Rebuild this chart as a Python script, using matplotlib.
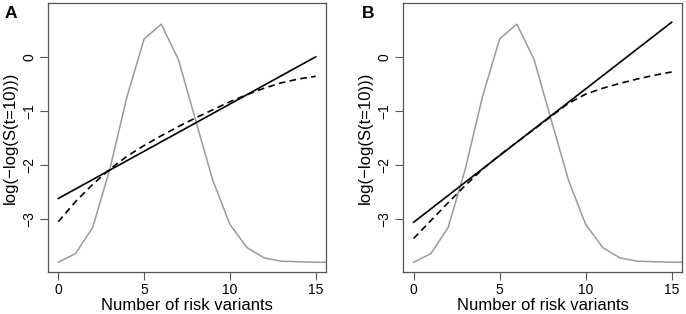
import matplotlib
matplotlib.use("Agg")
import matplotlib.pyplot as plt

plt.rcParams['font.family'] = ['Liberation Sans', 'DejaVu Sans']

# Data
x_grey = list(range(0, 17))
grey_vals = [-3.80, -3.64, -3.16, -2.08, -0.74, 0.33, 0.605, -0.05, -1.17,
             -2.28, -3.10, -3.53, -3.72, -3.78, -3.79, -3.80, -3.80]

x_fit = list(range(0, 16))
solid_A = [-2.62, 0.0]          # endpoints at x=0 and x=15
dashed_A = [-3.05, -2.68, -2.36, -2.08, -1.84, -1.64, -1.46, -1.29, -1.13,
            -0.98, -0.83, -0.70, -0.58, -0.48, -0.41, -0.36]
solid_B = [-3.06, 0.64]
dashed_B = [-3.36, -3.03, -2.70, -2.38, -2.08, -1.82, -1.58, -1.34, -1.10,
            -0.86, -0.69, -0.58, -0.49, -0.41, -0.34, -0.28]

panels = ['A', 'B']
solids = [solid_A, solid_B]
dasheds = [dashed_A, dashed_B]

xticks = [0, 5, 10, 15]
yticks = [-3, -2, -1, 0]

W, H = 686, 314
fig = plt.figure(figsize=(W / 100, H / 100), dpi=100)

boxes = [(48, 326), (403.3, 682)]
top_px, bot_px = 3.3, 272
frame_col = '#555555'

for i, (l, r) in enumerate(boxes):
    ax = fig.add_axes([l / W, 1 - bot_px / H, (r - l) / W, (bot_px - top_px) / H])
    ax.plot(x_grey, grey_vals, color='#9a9a9a', lw=1.1, solid_joinstyle='miter')
    ax.plot([0, 15], solids[i], color='black', lw=1.2)
    ax.plot(x_fit, dasheds[i], color='black', lw=1.2, ls=(0, (4.0, 2.6)))
    ax.set_xlim(-0.6, 15.6)
    ax.set_ylim(-3.98, 0.99)
    ax.set_xticks(xticks)
    ax.set_yticks(yticks)
    ax.set_yticklabels([str(t).replace('-', '\u2212') for t in yticks],
                       rotation=90, va='center')
    ax.tick_params(axis='both', length=5.5, width=0.8, color=frame_col,
                   labelsize=10, pad=2.5)
    ax.tick_params(axis='y', pad=3)
    for s in ax.spines.values():
        s.set_color(frame_col)
        s.set_linewidth(0.9)
    ax.set_xlabel('Number of risk variants', fontsize=12, labelpad=1)
    ax.set_ylabel('log(\u2212log(S(t=10)))', fontsize=12, labelpad=3)
    lx = 5 if i == 0 else 361.5
    fig.text(lx / W, 1 - 17.5 / H, panels[i], fontsize=12.5, fontweight='bold',
             ha='left', va='baseline')

fig.savefig('out.png', dpi=100)
